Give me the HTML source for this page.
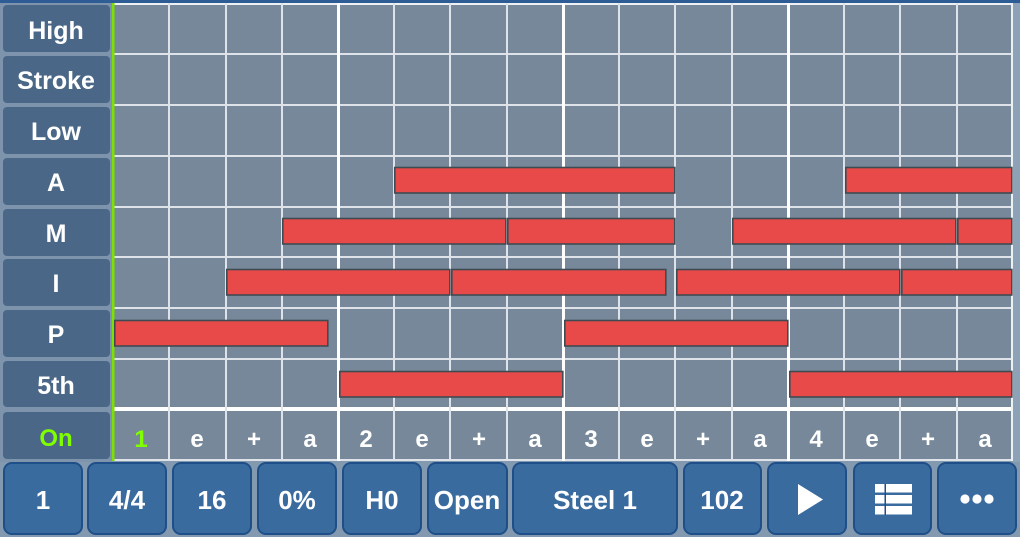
<!DOCTYPE html>
<html><head><meta charset="utf-8"><style>
html,body{margin:0;padding:0;background:#8399b0;}
svg{display:block;}
text{font-family:"Liberation Sans",Arial,sans-serif;font-weight:bold;}
</style></head><body>
<svg width="1020" height="537" viewBox="0 0 1020 537" xmlns="http://www.w3.org/2000/svg">
<rect x="0" y="0" width="1020" height="537" fill="#8399b0"/>
<rect x="0" y="0" width="1020" height="3" fill="#2d5d94"/>
<!-- label column bg -->
<rect x="0" y="3" width="113" height="459" fill="#7d94ac"/>
<!-- grid cells -->
<rect x="113" y="3" width="900" height="458" fill="#77889a"/>
<!-- label cells -->
<g fill="#4a6787">
<rect x="3" y="5" width="107" height="47" rx="4"/>
<rect x="3" y="56" width="107" height="47" rx="4"/>
<rect x="3" y="107" width="107" height="47" rx="4"/>
<rect x="3" y="158" width="107" height="47" rx="4"/>
<rect x="3" y="209" width="107" height="47" rx="4"/>
<rect x="3" y="259" width="107" height="47" rx="4"/>
<rect x="3" y="310" width="107" height="47" rx="4"/>
<rect x="3" y="361" width="107" height="46" rx="4"/>
<rect x="3" y="412" width="107" height="47" rx="4"/>
</g>
<g fill="#ffffff" font-size="25" text-anchor="middle">
<text x="56" y="39">High</text>
<text x="56" y="89">Stroke</text>
<text x="56" y="140">Low</text>
<text x="56" y="191">A</text>
<text x="56" y="242">M</text>
<text x="56" y="292">I</text>
<text x="56" y="343">P</text>
<text x="56" y="394">5th</text>
<text x="56" y="446" fill="#80ff00" font-size="24">On</text>
</g>
<!-- horizontal lines -->
<g fill="#dde3e8">
<rect x="113" y="3" width="900" height="2" fill="#eef1f4"/>
<rect x="113" y="53" width="900" height="2"/>
<rect x="113" y="104" width="900" height="2"/>
<rect x="113" y="155" width="900" height="2"/>
<rect x="113" y="206" width="900" height="2"/>
<rect x="113" y="256" width="900" height="2"/>
<rect x="113" y="307" width="900" height="2"/>
<rect x="113" y="358" width="900" height="2"/>
<rect x="113" y="407" width="900" height="4" fill="#ffffff"/>
<rect x="113" y="459" width="900" height="2"/>
</g>
<!-- vertical lines -->
<g fill="#dde3e8">
<rect x="168" y="3" width="2" height="458"/>
<rect x="225" y="3" width="2" height="458"/>
<rect x="281" y="3" width="2" height="458"/>
<rect x="337" y="3" width="3" height="458" fill="#ffffff"/>
<rect x="393" y="3" width="2" height="458"/>
<rect x="449" y="3" width="2" height="458"/>
<rect x="506" y="3" width="2" height="458"/>
<rect x="562" y="3" width="3" height="458" fill="#ffffff"/>
<rect x="618" y="3" width="2" height="458"/>
<rect x="674" y="3" width="2" height="458"/>
<rect x="731" y="3" width="2" height="458"/>
<rect x="787" y="3" width="3" height="458" fill="#ffffff"/>
<rect x="843" y="3" width="2" height="458"/>
<rect x="899" y="3" width="2" height="458"/>
<rect x="956" y="3" width="2" height="458"/>
<rect x="1011" y="3" width="2" height="458" fill="#eef1f4"/>
</g>
<rect x="1013" y="3" width="7" height="459" fill="#8ea2b7"/>
<!-- green line -->
<rect x="112" y="3" width="2.5" height="458" fill="#7ee000"/>
<!-- bars -->
<g fill="#e84a4a" stroke="#3f4b53" stroke-width="1.6">
<rect x="394.8" y="167.5" width="280" height="25.5"/>
<rect x="845.8" y="167.5" width="166" height="25.5"/>
<rect x="282.8" y="218.5" width="223" height="25.5"/>
<rect x="507.8" y="218.5" width="167" height="25.5"/>
<rect x="732.8" y="218.5" width="223" height="25.5"/>
<rect x="957.8" y="218.5" width="54" height="25.5"/>
<rect x="226.8" y="269.5" width="223" height="25.5"/>
<rect x="451.8" y="269.5" width="214" height="25.5"/>
<rect x="676.8" y="269.5" width="223" height="25.5"/>
<rect x="901.8" y="269.5" width="110" height="25.5"/>
<rect x="114.8" y="320.5" width="213" height="25.5"/>
<rect x="564.8" y="320.5" width="223" height="25.5"/>
<rect x="339.8" y="371.5" width="223" height="25.5"/>
<rect x="789.8" y="371.5" width="222" height="25.5"/>
</g>
<!-- count labels -->
<g fill="#ffffff" font-size="24" text-anchor="middle">
<text x="141" y="447" fill="#80ff00">1</text>
<text x="197" y="447">e</text>
<text x="254" y="447">+</text>
<text x="310" y="447">a</text>
<text x="366" y="447">2</text>
<text x="422" y="447">e</text>
<text x="479" y="447">+</text>
<text x="535" y="447">a</text>
<text x="591" y="447">3</text>
<text x="647" y="447">e</text>
<text x="703" y="447">+</text>
<text x="760" y="447">a</text>
<text x="816" y="447">4</text>
<text x="872" y="447">e</text>
<text x="928" y="447">+</text>
<text x="985" y="447">a</text>
</g>
<!-- buttons -->
<g fill="#3a6b9f" stroke="#1f4f88" stroke-width="2">
<rect x="4" y="463" width="78" height="71" rx="8"/>
<rect x="88" y="463" width="78" height="71" rx="8"/>
<rect x="173" y="463" width="78" height="71" rx="8"/>
<rect x="258" y="463" width="78" height="71" rx="8"/>
<rect x="343" y="463" width="78" height="71" rx="8"/>
<rect x="428" y="463" width="79" height="71" rx="8"/>
<rect x="513" y="463" width="164" height="71" rx="8"/>
<rect x="684" y="463" width="77" height="71" rx="8"/>
<rect x="768" y="463" width="78" height="71" rx="8"/>
<rect x="854" y="463" width="77" height="71" rx="8"/>
<rect x="938" y="463" width="78" height="71" rx="8"/>
</g>
<g fill="#ffffff" font-size="26" text-anchor="middle">
<text x="43" y="509">1</text>
<text x="127" y="509">4/4</text>
<text x="212" y="509">16</text>
<text x="297" y="509">0%</text>
<text x="382" y="509">H0</text>
<text x="467" y="509">Open</text>
<text x="595" y="509">Steel 1</text>
<text x="722" y="509">102</text>
</g>
<polygon points="798,484 798,515 823,499.5" fill="#ffffff"/>
<g fill="#ffffff">
<rect x="875" y="484" width="37" height="8.5"/>
<rect x="875" y="495" width="37" height="8.5"/>
<rect x="875" y="506" width="37" height="8.5"/>
</g>
<rect x="884.5" y="484" width="1.5" height="31" fill="#1f4f88"/>
<g fill="#ffffff">
<circle cx="965" cy="499" r="4.6"/>
<circle cx="977" cy="499" r="4.6"/>
<circle cx="989" cy="499" r="4.6"/>
</g>
</svg>
</body></html>
